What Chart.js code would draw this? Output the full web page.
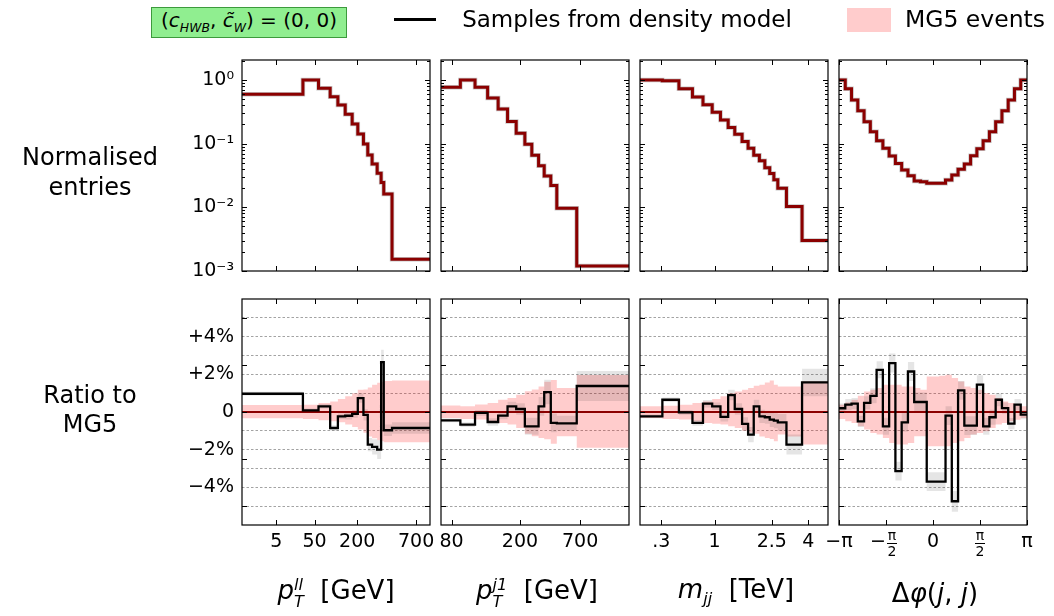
<!DOCTYPE html>
<html>
<head>
<meta charset="utf-8">
<script src="https://cdn.jsdelivr.net/npm/chart.js@4.4.1/dist/chart.umd.min.js"></script>
<style>
  body { margin: 0; background: #fff; font-family: "DejaVu Sans", sans-serif; }
  #fig { position: relative; width: 1054px; height: 616px; overflow: hidden; }
  #fig canvas { position: absolute; left: 0; top: 0; }
  .t { position: absolute; white-space: nowrap; color: #000; transform: translate(-50%, -50%); text-align: center; }
  .m { font-style: italic; }
  .ss { display: inline-block; vertical-align: -0.5em; font-size: 0.62em; line-height: 1.05em; text-align: left; font-style: italic; }
  sub { font-size: 0.62em; }
</style>
</head>
<body>
<div id="fig">
  <canvas id="c00" width="1054" height="616"></canvas>
  <canvas id="c01" width="1054" height="616"></canvas>
  <canvas id="c02" width="1054" height="616"></canvas>
  <canvas id="c03" width="1054" height="616"></canvas>
  <canvas id="c10" width="1054" height="616"></canvas>
  <canvas id="c11" width="1054" height="616"></canvas>
  <canvas id="c12" width="1054" height="616"></canvas>
  <canvas id="c13" width="1054" height="616"></canvas>

  <!-- legend -->
  <div style="position:absolute;left:151px;top:7px;width:194px;height:29px;background:#90ee90;border:1px solid #3c9a3c;"></div>
  <div class="t" style="left:249px;top:21px;font-size:20px;">(<span class="m">c<sub>HWB</sub></span>, <span class="m">c&#771;<sub>W</sub></span>) = (0, 0)</div>
  <div style="position:absolute;left:394px;top:18px;width:42px;height:2.5px;background:#000;"></div>
  <div class="t" style="left:627px;top:19px;font-size:23px;">Samples from density model</div>
  <div style="position:absolute;left:847px;top:8px;width:44px;height:24px;background:#ffcccc;"></div>
  <div class="t" style="left:975px;top:19px;font-size:23.5px;">MG5 events</div>

  <!-- row titles -->
  <div class="t" style="left:90px;top:172px;font-size:24px;line-height:30px;">Normalised<br>entries</div>
  <div class="t" style="left:90px;top:410px;font-size:24px;line-height:29px;">Ratio to<br>MG5</div>

  <!-- column titles -->
  <div class="t" style="left:336px;top:593px;font-size:26px;"><span class="m">p</span><span class="ss">ll<br>T</span>&nbsp; [GeV]</div>
  <div class="t" style="left:537px;top:593px;font-size:26px;"><span class="m">p</span><span class="ss">j1<br>T</span>&nbsp; [GeV]</div>
  <div class="t" style="left:736px;top:591px;font-size:26px;"><span class="m">m<sub>jj</sub></span>&nbsp; [TeV]</div>
  <div class="t" style="left:935px;top:593px;font-size:26px;">Δ<span class="m">φ</span>(<span class="m">j</span>, <span class="m">j</span>)</div>
</div>

<script>
// ---------------- data (x in axis units, ratio in %) ----------------

// p_T^ll
const ptllEdges = [0, 32.4, 40.7, 46.9, 51.0, 54.9, 58.6, 61.6, 64.6, 66.9, 69.2, 71.9, 74.0, 75.4, 79.8, 100];
const ptllNorm = [0.596, 1.0, 0.74, 0.547, 0.405, 0.29, 0.204, 0.142, 0.099, 0.0665, 0.048, 0.0343, 0.0245, 0.0162, 0.00153];
const ptllRatio = [0.97, 0.09, 0.3, -0.85, -0.23, -0.2, -0.1, 0.74, -0.15, -1.73, -1.85, -2.0, 2.65, -0.97, -0.85];
const ptllPinkHi = [0.37, 0.39, 0.48, 0.56, 0.69, 0.83, 1.0, 1.18, 1.2, 1.3, 1.45, 1.55, 1.6, 1.65, 1.67];
const ptllPinkLo = [-0.33, -0.37, -0.44, -0.49, -0.55, -0.67, -0.8, -0.93, -1.1, -1.3, -1.4, -1.5, -1.55, -1.6, -1.6];
const ptllGrey = [0.1, 0.1, 0.12, 0.15, 0.15, 0.2, 0.2, 0.25, 0.3, 0.35, 0.4, 0.5, 0.65, 0.3, 0.3];
const ptllTicks = [18.3, 38.6, 61.3, 92.6];
const ptllTickLabels = ['5', '50', '200', '700'];

// p_T^j1
const ptj1Edges = [0, 10.3, 18.1, 24.8, 30.4, 35.4, 40.0, 44.6, 48.3, 51.9, 54.9, 58.4, 61.6, 72.2, 100];
const ptj1Norm = [0.77, 1.0, 0.77, 0.52, 0.35, 0.222, 0.146, 0.098, 0.066, 0.045, 0.031, 0.022, 0.0097, 0.0012];
const ptj1Ratio = [-0.44, -0.67, -0.05, -0.53, -0.19, 0.3, 0.16, -0.76, -0.76, 0.3, 1.06, -0.58, -0.6, 1.38];
const ptj1PinkHi = [0.34, 0.3, 0.4, 0.48, 0.65, 0.75, 0.92, 1.1, 1.2, 1.36, 1.6, 1.7, 1.27, 1.97];
const ptj1PinkLo = [-0.32, -0.37, -0.4, -0.5, -0.58, -0.67, -0.85, -1.15, -1.29, -1.38, -1.45, -1.68, -1.29, -1.9];
const ptj1Grey = [0.1, 0.12, 0.15, 0.2, 0.2, 0.25, 0.3, 0.45, 0.45, 0.5, 0.65, 0.5, 0.4, 0.8];
const ptj1Ticks = [5.6, 42.0, 74.0];
const ptj1TickLabels = ['80', '200', '700'];

// m_jj
const mjjEdges = [0, 11.9, 20.7, 27.9, 33.5, 38.4, 42.8, 46.9, 50.4, 54.3, 57.5, 60.5, 63.5, 66.4, 69.0, 71.2, 73.3, 77.9, 86.2, 100];
const mjjNorm = [1.0, 0.97, 0.73, 0.54, 0.41, 0.31, 0.235, 0.18, 0.14, 0.108, 0.085, 0.066, 0.054, 0.042, 0.034, 0.027, 0.02, 0.0103, 0.003];
const mjjRatio = [-0.23, 0.65, -0.02, -0.58, 0.44, 0.3, -0.26, 0.9, 0.16, -0.63, -1.2, 0.3, -0.23, -0.28, -0.4, -0.46, -0.55, -1.73, 1.57];
const mjjPinkHi = [0.3, 0.33, 0.39, 0.48, 0.56, 0.69, 0.83, 1.0, 1.09, 1.18, 1.27, 1.39, 1.45, 1.57, 1.67, 1.45, 1.36, 1.36, 1.62];
const mjjPinkLo = [-0.32, -0.37, -0.4, -0.5, -0.58, -0.62, -0.67, -0.76, -0.85, -1.0, -1.1, -1.15, -1.3, -1.38, -1.43, -1.55, -1.2, -1.3, -1.73];
const mjjGrey = [0.1, 0.12, 0.12, 0.15, 0.2, 0.2, 0.25, 0.28, 0.3, 0.35, 0.4, 0.35, 0.35, 0.35, 0.4, 0.4, 0.45, 0.53, 0.73];
const mjjTicks = [11.3, 39.7, 70.1, 89.5];
const mjjTickLabels = ['.3', '1', '2.5', '4'];

// delta phi (30 equal bins from -pi to pi)
const dphiBins = 30;
const dphiEdges = Array.from({length: dphiBins + 1}, (_, i) => -Math.PI + i * 2 * Math.PI / dphiBins);
const dphiNorm = [1.0, 0.731, 0.485, 0.33, 0.221, 0.154, 0.111, 0.0844, 0.064, 0.049, 0.0385, 0.0314, 0.0259, 0.0253, 0.0238,
                  0.0238, 0.0238, 0.0268, 0.0322, 0.0395, 0.0479, 0.0645, 0.083, 0.111, 0.154, 0.221, 0.328, 0.485, 0.731, 1.0];
const dphiRatio = [0.2, 0.39, 0.44, -0.5, 0.48, 0.86, 2.24, -0.76, 2.6, -3.14, -0.55, 2.15, 0.53, 0.53, -3.7,
                   -3.7, -3.7, -0.19, -4.74, 1.15, -0.72, -0.72, 1.45, -0.76, -0.28, 0.65, 0.21, -0.62, 0.39, -0.14];
const dphiPinkHi = [0.39, 0.51, 0.65, 0.86, 1.09, 1.18, 1.27, 1.45, 1.45, 1.45, 1.36, 1.36, 1.27, 1.18, 1.89,
                    1.89, 1.92, 1.98, 1.8, 1.62, 1.36, 1.27, 1.18, 1.01, 0.92, 0.74, 0.56, 0.48, 0.39, 0.3];
const dphiPinkLo = [-0.37, -0.49, -0.58, -0.76, -0.93, -1.11, -1.2, -1.38, -1.64, -1.73, -1.73, -1.64, -1.29, -1.29, -1.82,
                    -1.82, -1.82, -1.82, -1.64, -1.55, -1.38, -1.2, -1.11, -1.02, -0.85, -0.67, -0.58, -0.49, -0.41, -0.32];
const dphiGrey = [0.25, 0.3, 0.3, 0.3, 0.35, 0.4, 0.45, 0.45, 0.5, 0.5, 0.5, 0.5, 0.5, 0.5, 0.5,
                  0.5, 0.5, 0.5, 0.55, 0.5, 0.5, 0.5, 0.5, 0.45, 0.4, 0.35, 0.3, 0.3, 0.3, 0.25];
const dphiTicks = [-Math.PI, -Math.PI / 2, 0, Math.PI / 2, Math.PI];
const dphiTickLabels = ['−π', '', '0', '', 'π'];

// y axes
const logTickVals = [0.001, 0.01, 0.1, 1];
const logTickText = ['10⁻³', '10⁻²', '10⁻¹', '10⁰'];
const ratioGridVals = [-5, -4, -3, -2, -1, 0, 1, 2, 3, 4, 5];
const ratioTickVals = [-4, -2, 0, 2, 4];
const ratioTickText = ['−4%', '−2%', '0', '+2%', '+4%'];
const ratioMarkVals = [-5, -2.5, 0, 2.5, 5];

// ---------------- layout ----------------
const FIG_W = 1054, FIG_H = 616;
const colX = [242, 441, 640, 839];
const colW = 188;
const rowY = [60, 299];
const rowH = [211, 226];
const Y_AXIS_W = 80;   // room for y tick labels (first column only)
const X_AXIS_H = 45;   // room for x tick labels (bottom row only)

Chart.defaults.font.family = '"DejaVu Sans", sans-serif';
Chart.defaults.font.size = 19;
Chart.defaults.color = '#000';
Chart.defaults.elements.point.radius = 0;

// per-canvas info for the frame / tick-mark plugin
const frameInfo = {};

const framePlugin = {
    id: 'frame',
    afterDraw(chart) {
        const info = frameInfo[chart.canvas.id];
        if (!info) return;
        const {ctx, chartArea: a, scales} = chart;
        ctx.save();
        ctx.strokeStyle = '#000';
        ctx.lineWidth = 1;
        const seg = (x1, y1, x2, y2) => { ctx.beginPath(); ctx.moveTo(x1, y1); ctx.lineTo(x2, y2); ctx.stroke(); };
        info.xMarks.forEach(v => {
            const x = Math.round(scales.x.getPixelForValue(v)) + 0.5;
            seg(x, a.top, x, a.top + 5);
            seg(x, a.bottom, x, a.bottom - 5);
        });
        info.yMarks.forEach(v => {
            const y = Math.round(scales.y.getPixelForValue(v)) + 0.5;
            seg(a.left, y, a.left + 5, y);
            seg(a.right, y, a.right - 5, y);
        });
        (info.yMinor || []).forEach(v => {
            const y = Math.round(scales.y.getPixelForValue(v)) + 0.5;
            if (y < a.top || y > a.bottom) return;
            seg(a.left, y, a.left + 3, y);
            seg(a.right, y, a.right - 3, y);
        });
        ctx.lineWidth = 1.2;
        ctx.strokeRect(a.left, a.top, a.right - a.left, a.bottom - a.top);

        // stacked pi/2 labels
        (info.frac || []).forEach(f => {
            const x = scales.x.getPixelForValue(f.v);
            const fx = f.sign ? x + 6 : x;
            ctx.fillStyle = '#000';
            ctx.textAlign = 'center';
            ctx.textBaseline = 'middle';
            ctx.font = '14px "DejaVu Sans"';
            ctx.fillText('π', fx, a.bottom + 11);
            ctx.fillText('2', fx, a.bottom + 27);
            ctx.fillRect(fx - 5, a.bottom + 18, 10, 1);
            if (f.sign) {
                ctx.font = '19px "DejaVu Sans"';
                ctx.fillText(f.sign, x - 8, a.bottom + 17);
            }
        });
        ctx.restore();
    }
};
Chart.register(framePlugin);

function steps(edges, vals) {
    const pts = vals.map((v, i) => ({x: edges[i], y: v}));
    pts.push({x: edges[edges.length - 1], y: vals[vals.length - 1]});
    return pts;
}

const logMinor = [];
[0.001, 0.01, 0.1, 1].forEach(d => { for (let k = 2; k <= 9; k++) logMinor.push(k * d); });

const panels = [
    {edges: ptllEdges, norm: ptllNorm, ratio: ptllRatio, hi: ptllPinkHi, lo: ptllPinkLo, grey: ptllGrey,
     xMin: 0, xMax: 100, ticks: ptllTicks, labels: ptllTickLabels},
    {edges: ptj1Edges, norm: ptj1Norm, ratio: ptj1Ratio, hi: ptj1PinkHi, lo: ptj1PinkLo, grey: ptj1Grey,
     xMin: 0, xMax: 100, ticks: ptj1Ticks, labels: ptj1TickLabels},
    {edges: mjjEdges, norm: mjjNorm, ratio: mjjRatio, hi: mjjPinkHi, lo: mjjPinkLo, grey: mjjGrey,
     xMin: 0, xMax: 100, ticks: mjjTicks, labels: mjjTickLabels},
    {edges: dphiEdges, norm: dphiNorm, ratio: dphiRatio, hi: dphiPinkHi, lo: dphiPinkLo, grey: dphiGrey,
     xMin: -Math.PI, xMax: Math.PI, ticks: dphiTicks, labels: dphiTickLabels}
];

function buildChart(col, row) {
    const p = panels[col];
    const id = 'c' + row + col;
    const isTop = row === 0;
    const showY = col === 0;
    const showX = !isTop;
    const yW = showY ? Y_AXIS_W : 0;
    const xH = showX ? X_AXIS_H : 0;

    let datasets;
    if (isTop) {
        datasets = [
            {data: steps(p.edges, p.norm), borderColor: '#8b0000', borderWidth: 3, stepped: true, order: 0},
            {data: steps(p.edges, p.norm), borderColor: 'rgba(0,0,0,0.22)', borderWidth: 4.5, stepped: true, order: 1}
        ];
    } else {
        const greyHi = p.ratio.map((v, i) => v + p.grey[i]);
        const greyLo = p.ratio.map((v, i) => v - p.grey[i]);
        const zeros = p.ratio.map(() => 0);
        datasets = [
            {data: steps(p.edges, p.ratio), borderColor: '#000', borderWidth: 2.3, stepped: true, order: 0},
            {data: steps(p.edges, zeros), borderColor: '#8b0000', borderWidth: 1.8, stepped: true, order: 1},
            {data: steps(p.edges, greyHi), borderWidth: 0, backgroundColor: 'rgba(0,0,0,0.1)', fill: '+1', stepped: true, order: 2},
            {data: steps(p.edges, greyLo), borderWidth: 0, fill: false, stepped: true, order: 2},
            {data: steps(p.edges, p.hi), borderWidth: 0, backgroundColor: 'rgba(255,0,0,0.2)', fill: '+1', stepped: true, order: 3},
            {data: steps(p.edges, p.lo), borderWidth: 0, fill: false, stepped: true, order: 3}
        ];
    }

    frameInfo[id] = {
        xMarks: p.ticks,
        yMarks: isTop ? logTickVals : ratioMarkVals,
        yMinor: isTop ? logMinor : [],
        frac: (!isTop && col === 3) ? [{v: -Math.PI / 2, sign: '−'}, {v: Math.PI / 2, sign: ''}] : []
    };

    const yTickVals = isTop ? logTickVals : ratioGridVals;

    new Chart(document.getElementById(id), {
        type: 'line',
        data: {datasets: datasets},
        options: {
            responsive: false,
            animation: false,
            events: [],
            layout: {
                padding: {
                    left: colX[col] - yW,
                    top: rowY[row],
                    right: FIG_W - colX[col] - colW,
                    bottom: FIG_H - rowY[row] - rowH[row] - xH
                }
            },
            plugins: {legend: {display: false}, tooltip: {enabled: false}},
            scales: {
                x: {
                    type: 'linear',
                    min: p.xMin,
                    max: p.xMax,
                    afterFit: s => { s.height = xH; },
                    afterBuildTicks: s => { s.ticks = p.ticks.map(v => ({value: v})); },
                    grid: {display: false, drawTicks: false},
                    border: {display: false},
                    ticks: {
                        display: showX,
                        autoSkip: false,
                        maxRotation: 0,
                        padding: 6,
                        callback: (v, i) => p.labels[i]
                    }
                },
                y: {
                    type: isTop ? 'logarithmic' : 'linear',
                    min: isTop ? 0.001 : -6,
                    max: isTop ? 2.06 : 6,
                    afterFit: s => { s.width = yW; },
                    afterBuildTicks: s => { s.ticks = yTickVals.map(v => ({value: v})); },
                    grid: isTop ? {display: false, drawTicks: false} : {
                        drawTicks: false,
                        color: '#8c8c8c',
                        lineWidth: 0.8
                    },
                    border: {display: false, dash: isTop ? [] : [2.5, 2]},
                    ticks: {
                        display: showY,
                        autoSkip: false,
                        padding: 8,
                        callback: v => {
                            if (isTop) {
                                const i = logTickVals.findIndex(t => Math.abs(t - v) < t * 1e-6);
                                return i >= 0 ? logTickText[i] : '';
                            }
                            const j = ratioTickVals.indexOf(v);
                            return j >= 0 ? ratioTickText[j] : '';
                        }
                    }
                }
            }
        }
    });
}

for (let row = 0; row < 2; row++) {
    for (let col = 0; col < 4; col++) {
        buildChart(col, row);
    }
}
</script>
</body>
</html>
